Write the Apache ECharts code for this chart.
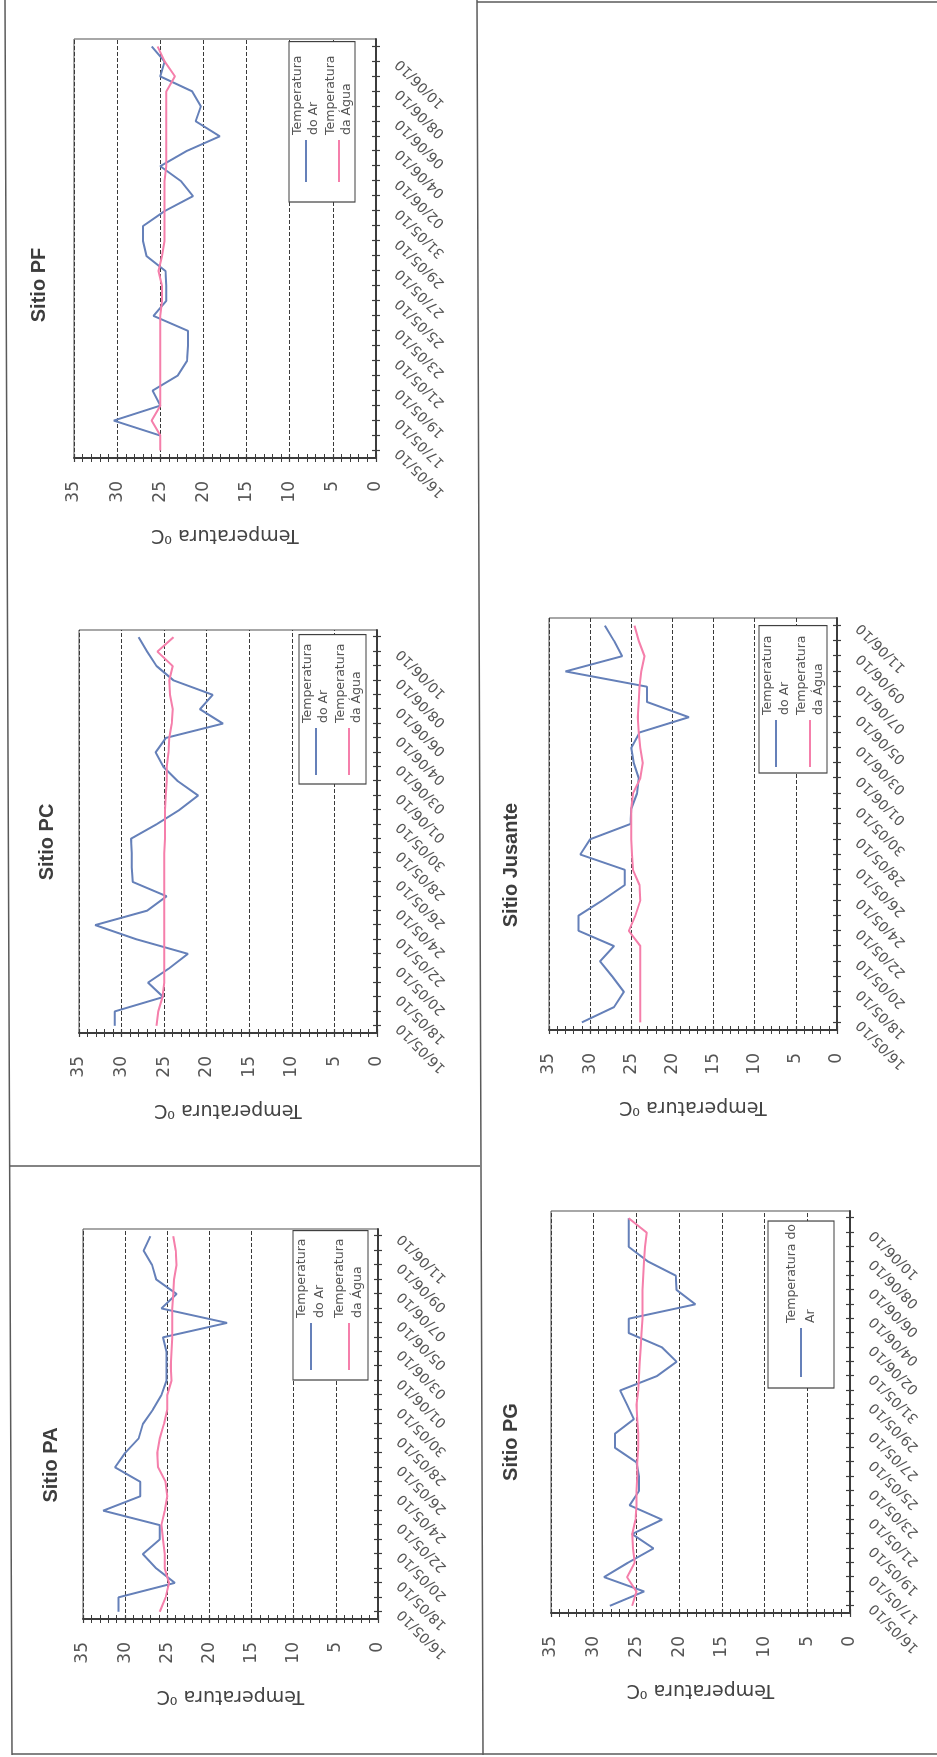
<!DOCTYPE html>
<html>
<head>
<meta charset="utf-8">
<title>Temperatura do Ar e da Água - Sítios</title>
<script src="https://cdn.jsdelivr.net/npm/echarts@6/dist/echarts.min.js"></script>
<style>
  html, body { margin: 0; padding: 0; background: #fff; width: 937px; height: 1757px; overflow: hidden; }
  /* the sheet is laid out in landscape and turned a quarter turn to fit the portrait page */
  #sheet {
    position: absolute; left: 0; top: 0;
    width: 1757px; height: 937px;
    transform-origin: 0 0;
    transform: translate(0, 1757px) rotate(-90deg);
    background: #fff;
  }
</style>
</head>
<body>
<div id="sheet"></div>
<script>
// ---- sampling dates (category axis labels) ----
const datesPA = ['16/05/10','17/05/10','18/05/10','19/05/10','20/05/10','21/05/10','22/05/10','23/05/10','24/05/10','25/05/10','26/05/10','27/05/10','28/05/10','29/05/10','30/05/10','31/05/10','01/06/10','02/06/10','03/06/10','04/06/10','05/06/10','06/06/10','07/06/10','08/06/10','09/06/10','10/06/10','11/06/10'];
const datesPC = ['16/05/10','17/05/10','18/05/10','19/05/10','20/05/10','21/05/10','22/05/10','23/05/10','24/05/10','25/05/10','26/05/10','27/05/10','28/05/10','29/05/10','30/05/10','31/05/10','01/06/10','02/06/10','03/06/10','03/06/10','04/06/10','05/06/10','06/06/10','07/06/10','08/06/10','09/06/10','10/06/10','11/06/10'];
const datesPF = ['16/05/10','16/05/10','17/05/10','18/05/10','19/05/10','20/05/10','21/05/10','22/05/10','23/05/10','24/05/10','25/05/10','26/05/10','27/05/10','28/05/10','29/05/10','30/05/10','31/05/10','01/06/10','02/06/10','03/06/10','04/06/10','05/06/10','06/06/10','07/06/10','08/06/10','09/06/10','10/06/10','11/06/10'];
const datesJusante = ['16/05/10','17/05/10','18/05/10','19/05/10','20/05/10','21/05/10','22/05/10','23/05/10','24/05/10','25/05/10','26/05/10','27/05/10','28/05/10','29/05/10','30/05/10','31/05/10','01/06/10','02/06/10','03/06/10','04/06/10','05/06/10','06/06/10','07/06/10','08/06/10','09/06/10','10/06/10','11/06/10'];
const datesPG = ['16/05/10','16/05/10','17/05/10','18/05/10','19/05/10','20/05/10','21/05/10','22/05/10','23/05/10','24/05/10','25/05/10','26/05/10','27/05/10','28/05/10','29/05/10','30/05/10','31/05/10','01/06/10','02/06/10','03/06/10','04/06/10','05/06/10','06/06/10','07/06/10','08/06/10','09/06/10','10/06/10','11/06/10'];

// ---- temperatures (°C) ----
const airPA   = [30.8, 30.8, 24.1, 26.3, 27.9, 25.9, 25.9, 32.6, 28.2, 28.2, 31.2, 30.0, 28.4, 27.9, 26.7, 25.7, 25.1, 25.1, 25.1, 25.5, 17.9, 25.7, 23.9, 26.3, 26.8, 27.8, 27.0];
const waterPA = [25.9, 25.2, 24.8, 25.3, 25.3, 25.5, 25.7, 25.3, 25.0, 25.2, 26.1, 26.2, 25.9, 25.4, 25.0, 25.0, 24.5, 24.6, 24.5, 24.4, 24.4, 24.4, 24.3, 24.2, 23.9, 24.0, 24.3];

const airPC   = [30.8, 30.8, 25.1, 26.9, 24.4, 22.2, 28.2, 33.1, 27.0, 24.7, 28.7, 28.8, 28.8, 28.9, 25.9, 23.2, 21.0, 23.4, 25.1, 26.0, 24.8, 18.1, 20.8, 19.3, 23.9, 25.9, 27.0, 28.0];
const waterPC = [25.9, 25.7, 25.2, 25.0, 25.0, 25.0, 25.0, 25.0, 25.0, 25.0, 25.0, 25.0, 25.0, 24.9, 24.9, 24.9, 24.8, 24.7, 24.7, 24.5, 24.4, 24.1, 24.0, 24.3, 24.4, 24.0, 25.8, 23.9];

const airPF   = [null, 25.0, 30.4, 25.0, 25.9, 23.0, 21.9, 21.8, 21.8, 25.8, 24.3, 24.3, 24.4, 26.6, 27.0, 27.0, 24.5, 21.2, 22.6, 25.0, 22.0, 18.1, 20.9, 20.3, 21.3, 25.0, 24.5, 26.0];
const waterPF = [25.0, 25.0, 26.0, 25.0, 25.0, 25.0, 25.0, 25.0, 25.0, 25.0, 24.8, 24.8, 25.2, 24.8, 24.5, 24.5, 24.5, 24.5, 24.5, 24.3, 24.3, 24.3, 24.3, 24.3, 24.3, 23.3, 24.5, 25.3];

const airJusante   = [31.0, 27.1, 25.9, 27.3, 28.8, 27.1, 31.4, 31.4, 28.5, 25.8, 25.8, 31.2, 30.0, 25.1, 25.0, 24.3, 24.1, 24.7, 25.0, 24.0, 18.0, 23.1, 23.1, 33.0, 26.1, 27.1, 28.2];
const waterJusante = [23.9, 23.9, 23.9, 23.9, 23.9, 23.9, 25.3, 24.5, 23.9, 24.0, 24.8, 24.9, 25.0, 25.0, 25.0, 24.8, 23.9, 23.6, 23.9, 24.1, 24.2, 24.1, 24.0, 23.8, 23.4, 24.1, 24.6];

const airPG   = [28.1, 24.1, 28.8, 26.0, 23.0, 25.5, 22.0, 25.8, 24.7, 24.7, 25.0, 27.5, 27.5, 25.3, 26.1, 26.9, 22.6, 20.3, 22.0, 25.9, 25.9, 18.1, 20.3, 20.4, 23.7, 25.9, 25.9, 25.9];
const waterPG = [25.5, 25.0, 26.1, 25.2, 25.4, 25.5, 25.1, 25.0, 25.0, 24.9, 24.9, 24.8, 24.8, 24.9, 25.0, 24.8, 24.7, 24.6, 24.5, 24.4, 24.3, 24.3, 24.3, 24.2, 24.1, 24.0, 23.8, 25.9];

const AIR = 'Temperatura do Ar';
const WATER = 'Temperatura da Água';
const AXIS_NAME = 'Temperatura ⁰C';

// ---- look ----
const FONT = 'DejaVu Sans';
const TITLE_FONT = 'bold 20px "Liberation Sans", Arial, sans-serif';
const BLUE = '#6580b9';
const PINK = '#f57fab';
const INK = '#3c3c3c';
const TEXT = '#555555';

// ---- panel layout on the landscape sheet ----
const panels = [
  { title: 'Sitio PA', dates: datesPA, air: airPA, water: waterPA,
    legendNames: [AIR, WATER], airText: 'Temperatura\ndo Ar',
    grid: { left: 138, top: 83, width: 390, height: 295 }, titleAt: [292, 51],
    legend: { left: 377, top: 293, padding: [0, 8, 1, 10], itemWidth: 47, itemGap: 2, lineHeight: 18 } },
  { title: 'Sitio PC', dates: datesPC, air: airPC, water: waterPC,
    legendNames: [AIR, WATER], airText: 'Temperatura\ndo Ar',
    grid: { left: 724, top: 79, width: 403, height: 298 }, titleAt: [915, 47],
    legend: { left: 973, top: 299, padding: [1, 9, 1, 9], itemWidth: 47, itemGap: 1, lineHeight: 16 } },
  { title: 'Sitio PF', dates: datesPF, air: airPF, water: waterPF,
    legendNames: [AIR, WATER], airText: 'Temperatura\ndo Ar',
    grid: { left: 1299, top: 74, width: 419, height: 302 }, titleAt: [1472, 39],
    legend: { left: 1555, top: 289, padding: [1, 14, 0, 20], itemWidth: 42, itemGap: 1, lineHeight: 16 } },
  { title: 'Sitio PG', dates: datesPG, air: airPG, water: waterPG,
    legendNames: [AIR], airText: 'Temperatura do\nAr',
    grid: { left: 144, top: 551, width: 402, height: 299 }, titleAt: [315, 511],
    legend: { left: 369, top: 768, padding: [14, 3, 14, 11], itemWidth: 49, itemGap: 0, lineHeight: 19 } },
  { title: 'Sitio Jusante', dates: datesJusante, air: airJusante, water: waterJusante,
    legendNames: [AIR, WATER], airText: 'Temperatura\ndo Ar',
    grid: { left: 727, top: 549, width: 412, height: 288 }, titleAt: [892, 511],
    legend: { left: 984, top: 759, padding: [0, 10, 0, 6], itemWidth: 47, itemGap: 0, lineHeight: 17 } }
];

const option = {
  animation: false,
  backgroundColor: '#ffffff',
  grid: [], xAxis: [], yAxis: [], series: [], legend: [], graphic: []
};

panels.forEach((p, i) => {
  option.grid.push({
    left: p.grid.left, top: p.grid.top, width: p.grid.width, height: p.grid.height,
    show: true, borderColor: '#505050', borderWidth: 1, backgroundColor: 'transparent',
    outerBoundsMode: 'none', containLabel: false
  });

  const cat = { type: 'category', gridIndex: i, data: p.dates, boundaryGap: true, position: 'bottom' };
  // date axis with outward ticks and labels
  option.xAxis.push(Object.assign({}, cat, {
    axisLine: { show: true, onZero: false, lineStyle: { color: INK, width: 2 } },
    axisTick: { show: true, alignWithLabel: true, interval: 0, length: 4, lineStyle: { color: INK, width: 1.2 } },
    axisLabel: { interval: 1, rotate: 45, margin: 22, fontFamily: FONT, fontSize: 14, color: TEXT },
    splitLine: { show: false }
  }));
  // inward half of the crossing tick marks
  option.xAxis.push(Object.assign({}, cat, {
    axisLine: { show: false },
    axisTick: { show: true, inside: true, alignWithLabel: true, interval: 0, length: 4, lineStyle: { color: INK, width: 1.2 } },
    axisLabel: { show: false },
    splitLine: { show: false }
  }));

  const val = { type: 'value', gridIndex: i, min: 0, max: 35, interval: 5, position: 'left' };
  option.yAxis.push(Object.assign({}, val, {
    name: AXIS_NAME, nameLocation: 'middle', nameGap: 67,
    nameTextStyle: { fontFamily: FONT, fontSize: 19, color: '#444' },
    axisLine: { show: true, lineStyle: { color: INK, width: 2 } },
    axisTick: { show: true, length: 4, lineStyle: { color: INK, width: 1.2 } },
    minorTick: { show: true, splitNumber: 5, length: 4, lineStyle: { color: INK, width: 1 } },
    axisLabel: { margin: 23, fontFamily: FONT, fontSize: 17, color: TEXT },
    splitLine: { show: true, lineStyle: { color: '#3a3a3a', type: [4, 2], width: 1 } }
  }));
  option.yAxis.push(Object.assign({}, val, {
    axisLine: { show: false },
    axisTick: { show: true, inside: true, length: 4, lineStyle: { color: INK, width: 1.2 } },
    minorTick: { show: true, splitNumber: 5, length: 4, lineStyle: { color: INK, width: 1 } },
    axisLabel: { show: false },
    splitLine: { show: false }
  }));

  option.series.push({
    name: AIR, type: 'line', xAxisIndex: 2 * i, yAxisIndex: 2 * i,
    data: p.air, symbol: 'none', color: BLUE,
    lineStyle: { color: BLUE, width: 2 }, z: 3
  });
  option.series.push({
    name: WATER, type: 'line', xAxisIndex: 2 * i, yAxisIndex: 2 * i,
    data: p.water, symbol: 'none', color: PINK,
    lineStyle: { color: PINK, width: 2 }, z: 4
  });

  option.legend.push({
    data: p.legendNames,
    orient: 'vertical',
    left: p.legend.left, top: p.legend.top,
    padding: p.legend.padding,
    itemGap: p.legend.itemGap,
    itemWidth: p.legend.itemWidth, itemHeight: 2,
    icon: 'rect',
    selectedMode: false,
    backgroundColor: '#ffffff',
    borderColor: '#404040', borderWidth: 1.2, borderRadius: 0,
    textStyle: { fontFamily: FONT, fontSize: 12.5, color: TEXT, lineHeight: p.legend.lineHeight },
    formatter: (name) => name === AIR ? p.airText : 'Temperatura\nda Água',
    z: 10
  });

  option.graphic.push({
    type: 'text', x: p.titleAt[0], y: p.titleAt[1], z: 10,
    style: { text: p.title, font: TITLE_FONT, fill: '#3d3d3d', align: 'center', verticalAlign: 'middle' }
  });
});

// frame of the sheet
const frame = { stroke: '#5a5a5a', lineWidth: 1.5 };
[
  [2, 12, 1757, 5],      // outer edge along the top
  [3, 12, 3, 937],       // outer edge on the left
  [2, 483, 1757, 477],   // divider between the two rows
  [591, 9, 591, 480],    // divider after Sitio PA
  [1755, 477, 1755, 937] // edge of the lower row box
].forEach(([x1, y1, x2, y2]) => {
  option.graphic.push({ type: 'line', z: 1, shape: { x1, y1, x2, y2 }, style: frame, silent: true });
});

const chart = echarts.init(document.getElementById('sheet'), null, { renderer: 'canvas', width: 1757, height: 937 });
chart.setOption(option);
</script>
</body>
</html>
